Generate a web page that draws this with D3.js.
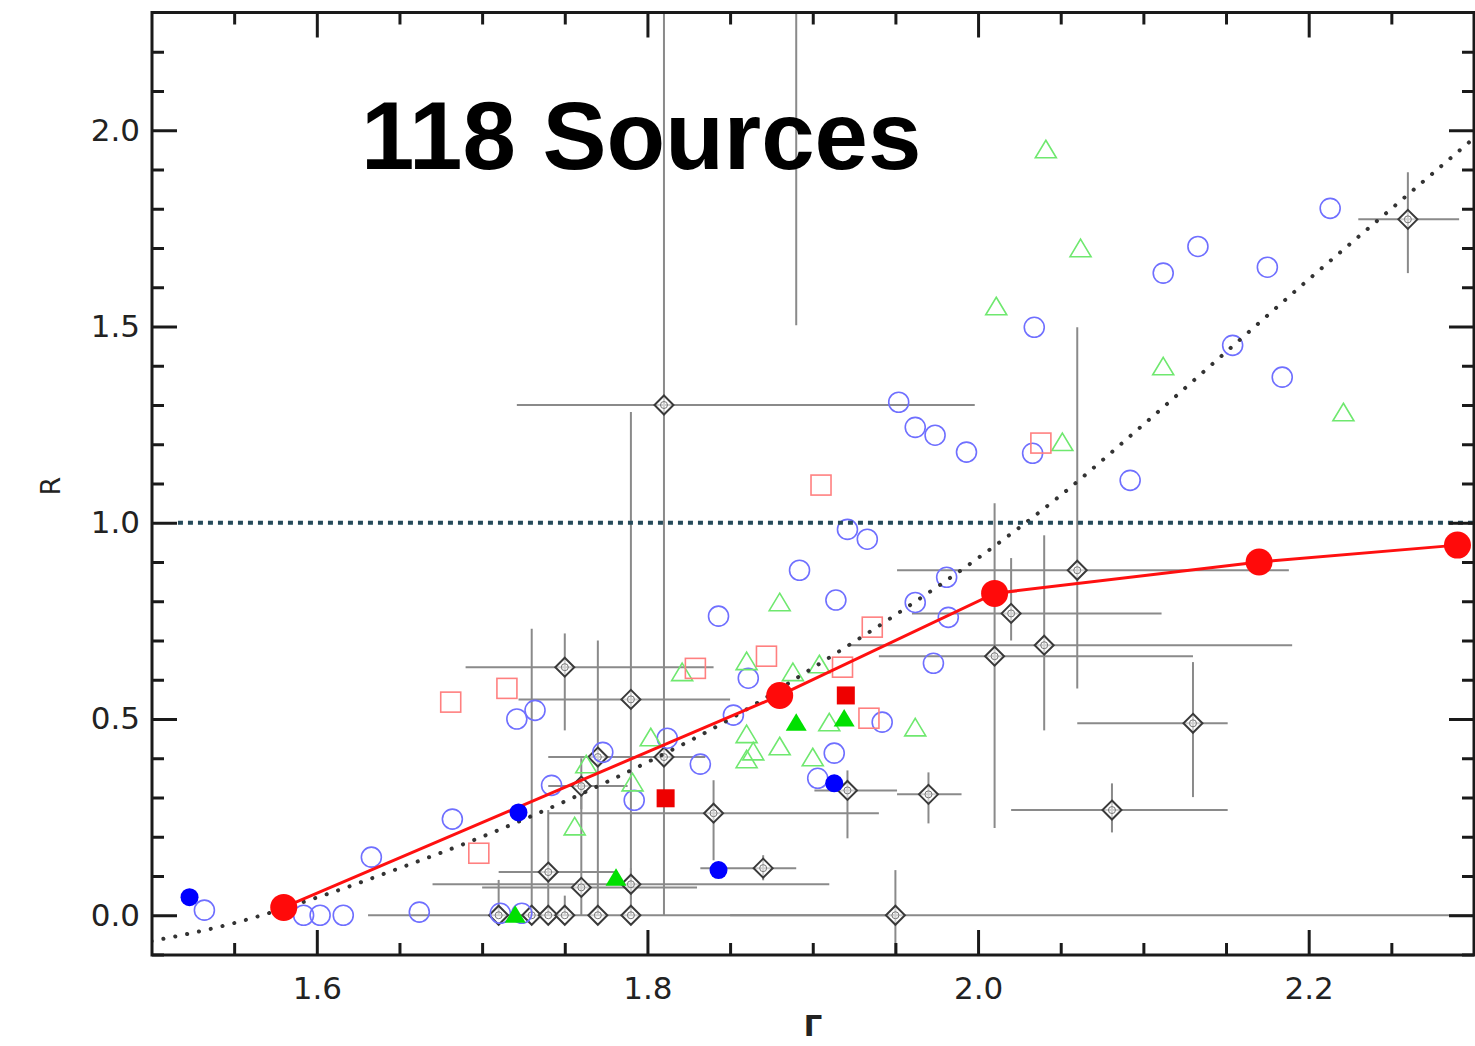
<!DOCTYPE html>
<html><head><meta charset="utf-8">
<script src="https://cdn.jsdelivr.net/npm/d3@7"></script>
<style>body{margin:0;background:#fff}svg{display:block}</style>
</head><body>
<svg id="c" width="1475" height="1046"></svg>
<script>
// ---- data ----
const binGamma = [1.58, 1.88, 2.01, 2.17, 2.29];
const binR     = [0.02, 0.56, 0.82, 0.90, 0.943];

const blueFilledG = [1.523, 1.722, 1.843, 1.913];
const blueFilledR = [0.046, 0.262, 0.115, 0.336];

const redFilledG = [1.811, 1.920];
const redFilledR = [0.298, 0.560];

const greenFilledG = [1.720, 1.781, 1.890, 1.919];
const greenFilledR = [0.000, 0.094, 0.489, 0.500];

const blueOpen = [[1.532,0.013],[1.592,0.0],[1.602,0.0],[1.616,0.0],[1.662,0.008],[1.633,0.148],[1.682,0.245],
 [1.721,0.50],[1.732,0.522],[1.742,0.331],[1.773,0.415],[1.792,0.293],[1.812,0.451],[1.832,0.385],[1.852,0.51],
 [1.861,0.604],[1.843,0.762],[1.892,0.879],[1.914,0.803],[1.921,0.983],[1.933,0.958],[1.913,0.413],[1.903,0.349],
 [1.942,0.492],[1.973,0.642],[1.962,0.797],[1.982,0.759],[1.981,0.861],[1.952,1.307],[1.962,1.243],[1.974,1.223],
 [1.993,1.18],[2.033,1.177],[2.034,1.498],[2.092,1.108],[2.112,1.636],[2.133,1.704],[2.175,1.651],[2.154,1.452],
 [2.184,1.371],[2.213,1.801],[1.711,0.005],[1.724,0.005]];

const greenOpen = [[1.756,0.224],[1.763,0.382],[1.791,0.336],[1.802,0.451],[1.821,0.617],[1.860,0.645],[1.888,0.617],
 [1.904,0.637],[1.880,0.795],[1.860,0.459],[1.864,0.415],[1.860,0.395],[1.880,0.428],[1.900,0.40],[1.910,0.489],
 [1.962,0.476],[2.051,1.203],[2.011,1.549],[2.062,1.697],[2.041,1.949],[2.112,1.396],[2.221,1.279]];

const redOpen = [[1.681,0.543],[1.715,0.578],[1.698,0.158],[1.829,0.629],[1.872,0.66],[1.918,0.632],[1.934,0.502],
 [1.936,0.734],[1.905,1.096],[2.038,1.203]];

// [gamma, R, gammaLo, gammaHi, RLo, RHi]
const diamonds = [
 [1.810,1.300,1.721,1.998,0.000,2.600],
 [2.260,1.773,2.230,2.291,1.636,1.893],
 [1.750,0.632,1.690,1.840,0.471,0.718],
 [1.790,0.550,1.722,1.850,0.000,1.282],
 [1.770,0.403,1.740,1.800,0.000,0.700],
 [1.810,0.403,1.780,1.835,0.403,0.403],
 [1.740,0.110,1.710,1.782,0.000,0.268],
 [1.760,0.071,1.700,1.830,0.000,0.344],
 [1.760,0.329,1.740,1.788,0.270,0.400],
 [1.790,0.079,1.670,1.910,0.040,0.120],
 [1.840,0.260,1.740,1.940,0.140,0.344],
 [1.870,0.120,1.832,1.890,0.089,0.153],
 [1.921,0.318,1.901,1.951,0.196,0.369],
 [1.970,0.308,1.951,1.990,0.234,0.364],
 [2.081,0.268,2.020,2.151,0.211,0.336],
 [2.130,0.489,2.060,2.151,0.301,0.645],
 [2.010,0.660,1.940,2.130,0.222,1.050],
 [2.040,0.688,1.921,2.190,0.471,0.968],
 [2.020,0.769,1.960,2.111,0.700,0.910],
 [2.060,0.879,1.951,2.188,0.578,1.498],
 [1.950,0.000,1.850,2.320,-0.200,0.115],
 [1.890,2.600,1.890,1.890,1.503,3.700],
 [1.710,0.000,1.631,1.950,0.000,0.090],
 [1.730,0.000,1.730,1.730,0.000,0.730],
 [1.740,0.000,1.740,1.740,0.000,0.000],
 [1.750,0.000,1.750,1.750,0.000,0.050],
 [1.770,0.000,1.770,1.770,0.000,0.000],
 [1.790,0.000,1.790,1.790,0.000,0.000]
];

const modelCurve = [[1.50,-0.066],[1.55,-0.02],[1.60,0.045],[1.65,0.12],[1.70,0.20],[1.75,0.29],[1.80,0.39],
 [1.85,0.50],[1.90,0.63],[1.95,0.765],[2.00,0.91],[2.05,1.07],[2.10,1.25],[2.15,1.435],[2.20,1.62],[2.25,1.80],[2.30,1.98]];

const unityLine = [[1.516,1.0],[2.30,1.0]];

const xMajor = [1.6, 1.8, 2.0, 2.2];
const xMinor = [1.55,1.65,1.70,1.75,1.85,1.90,1.95,2.05,2.10,2.15,2.25];
const yMajor = [0.0, 0.5, 1.0, 1.5, 2.0];
const yMinor = [-0.1,0.1,0.2,0.3,0.4,0.6,0.7,0.8,0.9,1.1,1.2,1.3,1.4,1.6,1.7,1.8,1.9,2.1,2.2];

// ---- layout ----
const L = 152, R = 1474, T = 12.5, B = 955;
const x = d3.scaleLinear([1.5, 2.3], [151.5, 1474]);
const y = d3.scaleLinear([-0.1, 2.3], [954.5, 12.5]);

const svg = d3.select("#c");
svg.append("defs").append("clipPath").attr("id","clip")
  .append("rect").attr("x",L).attr("y",T).attr("width",R-L).attr("height",B-T);
const g = svg.append("g").attr("clip-path","url(#clip)");

// error bars
const eb = g.append("g").attr("stroke","#8a8a8a").attr("stroke-width",2);
diamonds.forEach(d=>{
  if (d[3]>d[2]) eb.append("line").attr("x1",x(d[2])).attr("x2",x(d[3])).attr("y1",y(d[1])).attr("y2",y(d[1]));
  if (d[5]>d[4]) eb.append("line").attr("x1",x(d[0])).attr("x2",x(d[0])).attr("y1",y(d[4])).attr("y2",y(d[5]));
});
// diamonds
const dg = g.append("g");
diamonds.forEach(d=>{
  const cx=x(d[0]), cy=y(d[1]), s=9.5;
  dg.append("path").attr("d",`M${cx},${cy-s}L${cx+s},${cy}L${cx},${cy+s}L${cx-s},${cy}Z`)
    .attr("fill","#fff").attr("fill-opacity",0.6).attr("stroke","#3a3a3a").attr("stroke-width",2);
  dg.append("circle").attr("cx",cx).attr("cy",cy).attr("r",3.5).attr("fill","none").attr("stroke","#777").attr("stroke-width",1);
});

// open symbols
g.append("g").selectAll("circle").data(blueOpen).join("circle")
  .attr("cx",d=>x(d[0])).attr("cy",d=>y(d[1])).attr("r",10)
  .attr("fill","none").attr("stroke","#6f6fff").attr("stroke-width",1.6);
const tri = (cx,cy,s)=>`M${cx},${cy-s}L${cx+s*1.05},${cy+s*0.75}L${cx-s*1.05},${cy+s*0.75}Z`;
g.append("g").selectAll("path").data(greenOpen).join("path")
  .attr("d",d=>tri(x(d[0]),y(d[1]),10))
  .attr("fill","none").attr("stroke","#6fe86f").attr("stroke-width",1.6);
g.append("g").selectAll("rect").data(redOpen).join("rect")
  .attr("x",d=>x(d[0])-10).attr("y",d=>y(d[1])-10).attr("width",20).attr("height",20)
  .attr("fill","none").attr("stroke","#ff8080").attr("stroke-width",1.6);

// model curve (dotted)
g.append("path").datum(modelCurve)
  .attr("d",d3.line().x(d=>x(d[0])).y(d=>y(d[1])).curve(d3.curveMonotoneX))
  .attr("fill","none").attr("stroke","#333").attr("stroke-width",4)
  .attr("stroke-linecap","round").attr("stroke-dasharray","0.1 12");
// R=1 line
g.append("path").datum(unityLine)
  .attr("d",d3.line().x(d=>x(d[0])).y(d=>y(d[1])))
  .attr("fill","none").attr("stroke","#254a5a").attr("stroke-width",4)
  .attr("stroke-dasharray","5 5");

// binned red line + circles
const bins = binGamma.map((v,i)=>[v,binR[i]]);
g.append("path").datum(bins)
  .attr("d",d3.line().x(d=>x(d[0])).y(d=>y(d[1])))
  .attr("fill","none").attr("stroke","#ff1010").attr("stroke-width",3);
g.append("g").selectAll("circle").data(bins).join("circle")
  .attr("cx",d=>x(d[0])).attr("cy",d=>y(d[1])).attr("r",13.5).attr("fill","#ff0a0a");

// filled symbols
g.append("g").selectAll("circle").data(blueFilledG.map((v,i)=>[v,blueFilledR[i]])).join("circle")
  .attr("cx",d=>x(d[0])).attr("cy",d=>y(d[1])).attr("r",9).attr("fill","#0000ff");
g.append("g").selectAll("rect").data(redFilledG.map((v,i)=>[v,redFilledR[i]])).join("rect")
  .attr("x",d=>x(d[0])-9).attr("y",d=>y(d[1])-9).attr("width",18).attr("height",18).attr("fill","#ee0000");
g.append("g").selectAll("path").data(greenFilledG.map((v,i)=>[v,greenFilledR[i]])).join("path")
  .attr("d",d=>tri(x(d[0]),y(d[1]),10)).attr("fill","#00e000");

// ---- axes ----
const fmt = d3.format(".1f");
function styleAxis(sel){
  sel.select(".domain").remove();
  sel.selectAll(".tick line").attr("stroke","#1a1a1a").attr("stroke-width",3);
  sel.selectAll(".tick text").attr("fill","#222").style("font-family","'DejaVu Sans',sans-serif").style("font-size","31px");
}
svg.append("g").attr("transform",`translate(0,${B})`)
  .call(d3.axisBottom(x).tickValues(xMajor).tickSize(-25).tickPadding(22).tickFormat(fmt)).call(styleAxis);
svg.append("g").attr("transform",`translate(0,${B})`)
  .call(d3.axisBottom(x).tickValues(xMinor).tickSize(-12).tickFormat("")).call(styleAxis);
svg.append("g").attr("transform",`translate(0,${T})`)
  .call(d3.axisTop(x).tickValues(xMajor).tickSize(-25).tickFormat("")).call(styleAxis);
svg.append("g").attr("transform",`translate(0,${T})`)
  .call(d3.axisTop(x).tickValues(xMinor).tickSize(-12).tickFormat("")).call(styleAxis);
svg.append("g").attr("transform",`translate(${L},0)`)
  .call(d3.axisLeft(y).tickValues(yMajor).tickSize(-25).tickPadding(12).tickFormat(fmt)).call(styleAxis);
svg.append("g").attr("transform",`translate(${L},0)`)
  .call(d3.axisLeft(y).tickValues(yMinor).tickSize(-12).tickFormat("")).call(styleAxis);
svg.append("g").attr("transform",`translate(${R},0)`)
  .call(d3.axisRight(y).tickValues(yMajor).tickSize(-25).tickFormat("")).call(styleAxis);
svg.append("g").attr("transform",`translate(${R},0)`)
  .call(d3.axisRight(y).tickValues(yMinor).tickSize(-12).tickFormat("")).call(styleAxis);

// frame
svg.append("rect").attr("x",L).attr("y",T).attr("width",R-L).attr("height",B-T)
  .attr("fill","none").attr("stroke","#1a1a1a").attr("stroke-width",3);

// labels
svg.append("text").attr("transform","translate(60,486) rotate(-90)").attr("text-anchor","middle")
  .style("font-family","'DejaVu Sans',sans-serif").style("font-size","27px").attr("fill","#222").text("R");
svg.append("text").attr("x",813).attr("y",1036).attr("text-anchor","middle")
  .style("font-family","'DejaVu Sans',sans-serif").style("font-size","29px").style("font-weight","bold").attr("fill","#222").text("Γ");
svg.append("text").attr("x",361).attr("y",169)
  .style("font-family","'Liberation Sans',Arial,sans-serif").style("font-size","96px").style("font-weight","bold").attr("fill","#000").text("118 Sources");
</script>
</body></html>
